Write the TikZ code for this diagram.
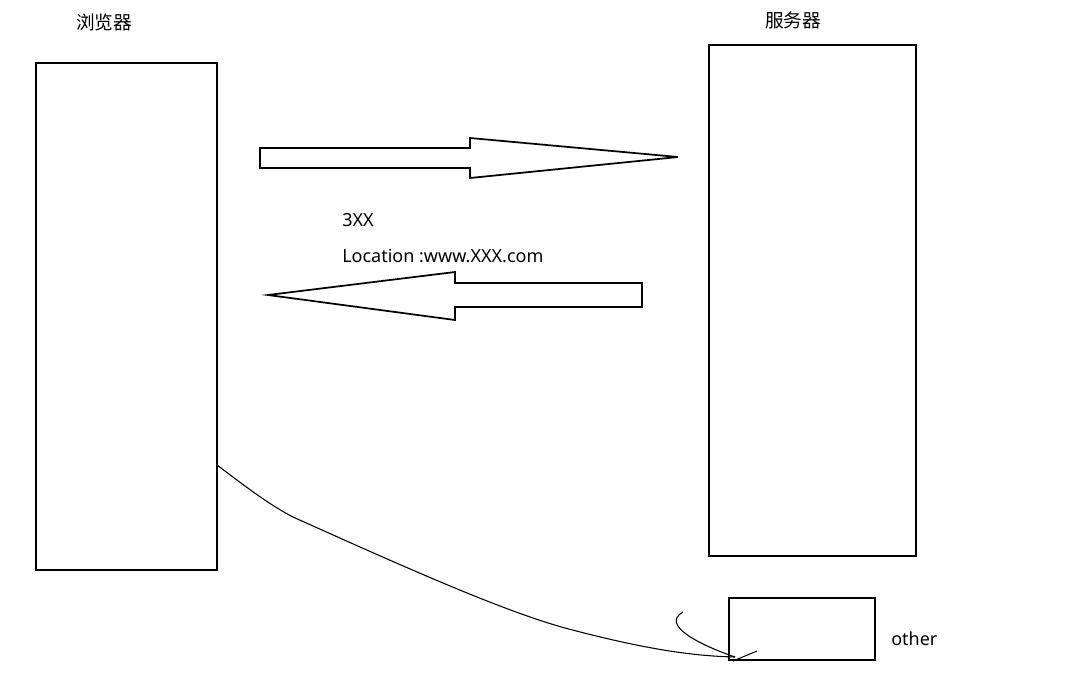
\documentclass[tikz,border=0pt]{standalone}
\usepackage{fontspec}
\setmainfont{Noto Sans}
\newfontfamily\cjk{Noto Sans CJK SC}
\begin{document}
\begin{tikzpicture}[x=0.75pt,y=-0.75pt,
  box/.style={draw,line width=1.3pt},
  lbl/.style={font=\fontsize{13.5}{16}\selectfont,anchor=west,inner sep=0pt},
  cj/.style={font=\cjk\fontsize{14}{16}\selectfont,inner sep=0pt},
  ink/.style={line width=0.8pt}]
\useasboundingbox (0,0) rectangle (1074,697);
\fill[white] (0,0) rectangle (1074,697);
\node[cj] (tb) at (104,22) {浏览器};
\node[cj] (ts) at (793,20) {服务器};
\draw[box] (36,63) rectangle (217,570);
\coordinate (bstart) at (217,465);
\draw[box] (709,45) rectangle (916,556);
\draw[box] (729,598) rectangle (875,660);
\node[lbl] (oth) at (891,639) {other};
\draw[box,line join=miter] (260,148) -- (470,148) -- (470,138) -- (678,157) -- (470,178) -- (470,168) -- (260,168) -- cycle;
\draw[box,line join=miter] (642,283) -- (455,283) -- (455,272) -- (268,295) -- (455,320) -- (455,307) -- (642,307) -- cycle;
\node[lbl] (t1) at (342,220) {3XX};
\node[lbl] (t2) at (342,256) {Location :www.XXX.com};
\coordinate (cend) at (735,657);
\draw[ink] (bstart) .. controls (250,490) and (270,505) .. (293,517)
  .. controls (400,565) and (500,610) .. (565,628)
  .. controls (640,648) and (690,656) .. (cend);
\draw[ink] (683,612) .. controls (660,625) and (700,645) .. (cend);
\draw[ink] (733,661) -- (757,651);
\end{tikzpicture}
\end{document}
